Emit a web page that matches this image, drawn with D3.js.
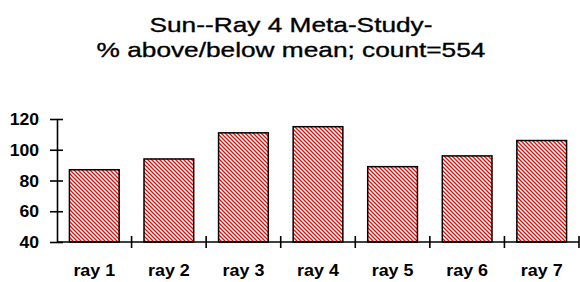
<!DOCTYPE html>
<html>
<head>
<meta charset="utf-8">
<script src="https://cdn.jsdelivr.net/npm/d3@7"></script>
<style>
  html, body { margin: 0; padding: 0; background: #fff; }
  svg text { font-family: Arial, "Liberation Sans", sans-serif; fill: #000; }
</style>
</head>
<body>
<div id="chart"></div>
<script>
// data
const categories = ['ray 1', 'ray 2', 'ray 3', 'ray 4', 'ray 5', 'ray 6', 'ray 7'];
const values = [87, 94, 111, 115, 89, 96, 106];
const yTicks = [40, 60, 80, 100, 120];
const titleLines = ['Sun--Ray 4 Meta-Study-', '% above/below mean; count=554'];

const width = 580;
const height = 282;
const plotLeft = 57, plotRight = 579, plotTop = 119, plotBottom = 242;

const svg = d3
  .select('#chart')
  .append('svg')
  .attr('width', width)
  .attr('height', height);

// hatch fill for the bars
const defs = svg.append('defs');
const pat = defs
  .append('pattern')
  .attr('id', 'hatch')
  .attr('patternUnits', 'userSpaceOnUse')
  .attr('width', 4)
  .attr('height', 4);
pat.append('rect').attr('width', 4).attr('height', 4).attr('fill', '#fff');
pat
  .append('path')
  .attr('d', 'M-1,-1 L5,5 M-1,3 L1,5 M3,-1 L5,1')
  .attr('stroke', '#ff0000')
  .attr('stroke-width', 1.3);

const x = d3
  .scaleBand()
  .domain(categories)
  .range([plotLeft, plotRight])
  .paddingInner(1 / 3)
  .paddingOuter(1 / 6);

const y = d3.scaleLinear().domain([40, 120]).range([plotBottom, plotTop]);

// title, a bit heavier than plain regular
svg
  .append('g')
  .selectAll('text')
  .data(titleLines)
  .join('text')
  .attr('text-anchor', 'middle')
  .attr('transform', (d, i) => `translate(291,${31.5 + i * 25}) scale(1.25,1)`)
  .attr('stroke', '#000')
  .attr('stroke-width', 0.35)
  .style('font-size', '21px')
  .text((d) => d);

// bars
svg
  .append('g')
  .selectAll('rect')
  .data(values)
  .join('rect')
  .attr('x', (d, i) => x(categories[i]))
  .attr('y', (d) => y(d))
  .attr('width', x.bandwidth())
  .attr('height', (d) => y(40) - y(d))
  .attr('fill', 'url(#hatch)')
  .attr('stroke', '#000')
  .attr('stroke-width', 1.5);

// y axis, ticks crossing the line
const yAxis = svg
  .append('g')
  .attr('transform', `translate(${plotLeft},0)`)
  .call(d3.axisLeft(y).tickValues(yTicks).tickSize(7).tickSizeOuter(0));
yAxis.select('.domain').attr('stroke', '#000').attr('stroke-width', 1.6);
yAxis
  .selectAll('.tick line')
  .attr('x1', 6)
  .attr('x2', -7)
  .attr('stroke', '#000')
  .attr('stroke-width', 1.6);
yAxis
  .selectAll('.tick text')
  .attr('x', 0)
  .attr('dy', '0.35em')
  .attr('transform', 'translate(-18,0) scale(1.1,1)')
  .attr('text-anchor', 'end')
  .style('font-size', '16px')
  .style('font-weight', 'bold');

// x axis line with ticks at category boundaries
const xg = svg.append('g');
xg.append('line')
  .attr('x1', plotLeft)
  .attr('x2', plotRight)
  .attr('y1', y(40))
  .attr('y2', y(40))
  .attr('stroke', '#000')
  .attr('stroke-width', 1.6);

const gap = (x.step() - x.bandwidth()) / 2;
const bounds = categories.map((c) => x(c) - gap).concat([plotRight]);
xg.selectAll('line.tick')
  .data(bounds.slice(1))
  .join('line')
  .attr('class', 'tick')
  .attr('x1', (d) => d)
  .attr('x2', (d) => d)
  .attr('y1', y(40) - 6)
  .attr('y2', y(40) + 6)
  .attr('stroke', '#000')
  .attr('stroke-width', 1.6);

xg.selectAll('text')
  .data(categories)
  .join('text')
  .attr('text-anchor', 'middle')
  .attr('transform', (d) => `translate(${x(d) + x.bandwidth() / 2},276) scale(1.12,1)`)
  .style('font-size', '16px')
  .style('font-weight', 'bold')
  .text((d) => d);
</script>
</body>
</html>
